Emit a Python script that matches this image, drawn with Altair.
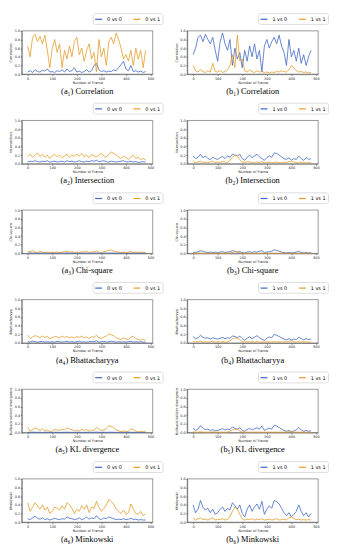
import altair as alt
import pandas as pd

# ---- data (values every 10 frames) ----
a1_00 = [0.05,0.08,0.04,0.10,0.06,0.05,0.09,0.07,0.12,0.05,0.06,0.04,0.08,0.06,0.10,0.05,0.12,0.06,0.08,0.15,0.05,0.07,0.04,0.06,0.10,0.05,0.08,0.20,0.25,0.10,0.06,0.08,0.05,0.07,0.06,0.10,0.08,0.15,0.22,0.30,0.12,0.08,0.20,0.06,0.08,0.05,0.07,0.04,0.06]
a1_01 = [0.65,0.40,0.85,0.92,0.75,0.88,0.70,0.90,0.55,0.15,0.60,0.80,0.50,0.70,0.15,0.55,0.35,0.65,0.40,0.75,0.85,0.45,0.60,0.30,0.55,0.70,0.35,0.50,0.05,0.80,0.40,0.60,0.20,0.75,0.85,0.70,0.95,0.80,0.60,0.35,0.45,0.30,0.55,0.20,0.60,0.35,0.55,0.15,0.55]
b1_10 = [0.45,0.60,0.85,0.90,0.75,0.92,0.80,0.70,0.85,0.55,0.30,0.75,0.95,0.70,0.55,0.80,0.20,0.60,0.35,0.50,0.15,0.55,0.30,0.65,0.40,0.70,0.35,0.55,0.05,0.65,0.80,0.60,0.75,0.85,0.70,0.90,0.65,0.50,0.20,0.80,0.40,0.55,0.30,0.60,0.25,0.45,0.20,0.40,0.55]
b1_11 = [0.20,0.08,0.05,0.10,0.06,0.04,0.08,0.05,0.25,0.06,0.05,0.08,0.04,0.06,0.10,0.20,0.45,0.15,0.90,0.30,0.35,0.08,0.05,0.10,0.06,0.04,0.08,0.05,0.06,0.04,0.05,0.03,0.05,0.04,0.06,0.05,0.08,0.06,0.05,0.10,0.20,0.15,0.08,0.05,0.06,0.04,0.05,0.03,0.04]

a2_00 = [0.04,0.06,0.05,0.07,0.05,0.04,0.06,0.05,0.07,0.04,0.05,0.06,0.04,0.05,0.06,0.04,0.07,0.05,0.06,0.04,0.05,0.07,0.05,0.04,0.06,0.05,0.07,0.06,0.08,0.05,0.06,0.07,0.05,0.04,0.06,0.05,0.04,0.05,0.06,0.07,0.04,0.05,0.06,0.04,0.05,0.03,0.04,0.05,0.04]
a2_01 = [0.18,0.22,0.15,0.20,0.25,0.17,0.22,0.15,0.20,0.12,0.18,0.22,0.16,0.20,0.14,0.18,0.22,0.15,0.20,0.17,0.22,0.18,0.24,0.16,0.20,0.14,0.22,0.18,0.16,0.20,0.24,0.18,0.15,0.22,0.27,0.24,0.20,0.16,0.12,0.18,0.14,0.10,0.16,0.20,0.12,0.15,0.10,0.12,0.09]
b2_10 = [0.18,0.12,0.15,0.22,0.14,0.18,0.12,0.10,0.15,0.12,0.10,0.14,0.17,0.12,0.18,0.15,0.22,0.20,0.18,0.22,0.12,0.08,0.15,0.20,0.14,0.18,0.22,0.16,0.12,0.08,0.14,0.18,0.15,0.25,0.24,0.20,0.16,0.12,0.10,0.14,0.08,0.12,0.10,0.18,0.12,0.08,0.14,0.10,0.12]
b2_11 = [0.05,0.03,0.04,0.06,0.03,0.04,0.02,0.05,0.06,0.03,0.04,0.03,0.05,0.04,0.03,0.08,0.15,0.20,0.18,0.10,0.04,0.03,0.05,0.04,0.03,0.02,0.04,0.03,0.05,0.02,0.03,0.04,0.02,0.03,0.04,0.03,0.02,0.04,0.03,0.05,0.06,0.04,0.03,0.02,0.04,0.03,0.02,0.03,0.02]

a3_00 = [0.006,0.008,0.005,0.010,0.007,0.005,0.009,0.006,0.008,0.005,0.006,0.007,0.005,0.008,0.006,0.005,0.009,0.006,0.007,0.005,0.006,0.008,0.005,0.006,0.007,0.005,0.008,0.006,0.010,0.006,0.007,0.008,0.005,0.006,0.007,0.006,0.005,0.006,0.007,0.008,0.005,0.006,0.007,0.005,0.006,0.004,0.005,0.006,0.005]
a3_01 = [0.05,0.04,0.06,0.03,0.02,0.04,0.03,0.02,0.03,0.02,0.03,0.02,0.03,0.02,0.03,0.04,0.05,0.03,0.04,0.02,0.03,0.02,0.04,0.03,0.05,0.02,0.03,0.04,0.06,0.03,0.02,0.04,0.05,0.07,0.08,0.05,0.04,0.03,0.02,0.03,0.02,0.03,0.04,0.02,0.03,0.02,0.03,0.02,0.02]
b3_10 = [0.03,0.02,0.04,0.06,0.05,0.03,0.02,0.03,0.02,0.03,0.02,0.03,0.04,0.02,0.03,0.04,0.06,0.05,0.03,0.04,0.02,0.01,0.03,0.04,0.02,0.04,0.03,0.05,0.06,0.02,0.03,0.04,0.05,0.08,0.07,0.05,0.03,0.02,0.01,0.02,0.01,0.02,0.03,0.05,0.02,0.01,0.02,0.01,0.02]
b3_11 = [0.005,0.003,0.004,0.005,0.003,0.004,0.003,0.004,0.005,0.003,0.004,0.003,0.004,0.003,0.004,0.008,0.020,0.040,0.035,0.015,0.004,0.003,0.004,0.003,0.004,0.003,0.004,0.003,0.004,0.003,0.004,0.003,0.004,0.003,0.004,0.003,0.004,0.003,0.004,0.005,0.006,0.004,0.003,0.004,0.003,0.004,0.003,0.004,0.003]

a4_00 = [0.03,0.02,0.04,0.03,0.02,0.03,0.04,0.02,0.03,0.02,0.03,0.02,0.04,0.03,0.02,0.03,0.04,0.02,0.03,0.02,0.03,0.04,0.02,0.03,0.02,0.03,0.04,0.03,0.05,0.02,0.03,0.04,0.02,0.03,0.04,0.03,0.02,0.03,0.02,0.03,0.02,0.03,0.04,0.02,0.03,0.02,0.03,0.02,0.02]
a4_01 = [0.18,0.10,0.14,0.17,0.15,0.12,0.16,0.13,0.15,0.10,0.12,0.15,0.14,0.12,0.16,0.13,0.15,0.12,0.14,0.11,0.15,0.13,0.16,0.12,0.14,0.10,0.15,0.13,0.18,0.12,0.10,0.14,0.16,0.21,0.19,0.17,0.12,0.10,0.08,0.12,0.09,0.08,0.13,0.16,0.10,0.08,0.07,0.09,0.06]
b4_10 = [0.15,0.10,0.12,0.18,0.13,0.11,0.12,0.09,0.12,0.10,0.09,0.11,0.13,0.10,0.12,0.11,0.16,0.15,0.12,0.16,0.10,0.06,0.11,0.14,0.10,0.13,0.17,0.12,0.09,0.06,0.11,0.14,0.12,0.20,0.18,0.15,0.12,0.09,0.07,0.10,0.07,0.09,0.08,0.13,0.10,0.07,0.10,0.08,0.09]
b4_11 = [0.04,0.02,0.03,0.04,0.02,0.03,0.02,0.03,0.04,0.02,0.03,0.02,0.03,0.02,0.03,0.05,0.09,0.12,0.11,0.07,0.03,0.02,0.03,0.02,0.03,0.02,0.03,0.02,0.03,0.02,0.03,0.02,0.02,0.03,0.02,0.03,0.02,0.03,0.02,0.04,0.05,0.03,0.02,0.03,0.02,0.03,0.02,0.02,0.02]

a5_00 = [0.008,0.005,0.010,0.007,0.006,0.008,0.005,0.007,0.009,0.005,0.006,0.008,0.006,0.005,0.007,0.006,0.009,0.007,0.006,0.005,0.007,0.008,0.006,0.005,0.007,0.006,0.008,0.007,0.012,0.006,0.005,0.008,0.006,0.007,0.009,0.006,0.005,0.006,0.007,0.006,0.005,0.007,0.008,0.005,0.006,0.005,0.006,0.005,0.005]
a5_01 = [0.12,0.03,0.07,0.11,0.08,0.05,0.09,0.04,0.06,0.02,0.04,0.07,0.06,0.05,0.08,0.06,0.11,0.08,0.07,0.04,0.05,0.04,0.08,0.05,0.07,0.03,0.06,0.05,0.12,0.08,0.04,0.06,0.09,0.16,0.14,0.11,0.06,0.04,0.02,0.04,0.02,0.03,0.09,0.06,0.03,0.02,0.03,0.02,0.02]
b5_10 = [0.10,0.05,0.08,0.16,0.10,0.07,0.08,0.05,0.07,0.04,0.05,0.07,0.09,0.06,0.08,0.07,0.13,0.10,0.08,0.11,0.05,0.03,0.07,0.10,0.06,0.09,0.11,0.08,0.15,0.05,0.08,0.10,0.08,0.17,0.15,0.12,0.08,0.05,0.03,0.05,0.02,0.04,0.06,0.12,0.06,0.03,0.05,0.03,0.04]
b5_11 = [0.02,0.01,0.01,0.02,0.01,0.01,0.01,0.01,0.02,0.01,0.01,0.01,0.01,0.01,0.01,0.03,0.06,0.08,0.07,0.04,0.01,0.01,0.01,0.01,0.01,0.01,0.01,0.01,0.01,0.01,0.01,0.01,0.01,0.01,0.01,0.01,0.01,0.01,0.01,0.02,0.02,0.01,0.01,0.01,0.01,0.01,0.01,0.01,0.01]

a6_00 = [0.08,0.06,0.10,0.14,0.09,0.07,0.10,0.06,0.08,0.05,0.07,0.09,0.07,0.06,0.08,0.07,0.12,0.09,0.08,0.06,0.07,0.10,0.06,0.08,0.12,0.07,0.10,0.08,0.15,0.08,0.06,0.10,0.08,0.12,0.10,0.08,0.06,0.07,0.06,0.08,0.06,0.07,0.09,0.06,0.07,0.05,0.06,0.05,0.05]
a6_01 = [0.45,0.25,0.35,0.45,0.38,0.30,0.40,0.28,0.35,0.20,0.25,0.35,0.32,0.28,0.38,0.30,0.45,0.40,0.32,0.20,0.30,0.25,0.38,0.30,0.40,0.22,0.35,0.32,0.48,0.35,0.25,0.32,0.40,0.52,0.48,0.42,0.30,0.25,0.20,0.28,0.18,0.22,0.42,0.30,0.20,0.18,0.25,0.15,0.20]
b6_10 = [0.40,0.22,0.30,0.50,0.35,0.28,0.32,0.22,0.30,0.18,0.22,0.30,0.35,0.25,0.32,0.28,0.45,0.38,0.30,0.40,0.20,0.12,0.30,0.40,0.25,0.35,0.42,0.30,0.48,0.18,0.30,0.38,0.32,0.50,0.48,0.42,0.32,0.22,0.15,0.22,0.12,0.18,0.25,0.40,0.25,0.15,0.22,0.12,0.20]
b6_11 = [0.10,0.05,0.08,0.10,0.06,0.07,0.05,0.08,0.10,0.05,0.07,0.06,0.08,0.05,0.07,0.12,0.25,0.35,0.30,0.18,0.08,0.05,0.07,0.06,0.08,0.05,0.07,0.06,0.08,0.05,0.06,0.07,0.05,0.06,0.08,0.05,0.06,0.07,0.05,0.10,0.12,0.08,0.06,0.07,0.05,0.06,0.05,0.06,0.05]

metrics = ["Correlation", "Intersection", "Chi-square", "Bhattacharyya", "KL divergence", "Minkowski"]
y_titles = ["Correlation", "Intersection", "Chi-square", "Bhattacharyya", "Kullback-Leibler divergence", "Minkowski"]
subs = ["\u2081", "\u2082", "\u2083", "\u2084", "\u2085", "\u2086"]
left_series = [(a1_00, a1_01), (a2_00, a2_01), (a3_00, a3_01), (a4_00, a4_01), (a5_00, a5_01), (a6_00, a6_01)]
right_series = [(b1_10, b1_11), (b2_10, b2_11), (b3_10, b3_11), (b4_10, b4_11), (b5_10, b5_11), (b6_10, b6_11)]
left_names = ["0 vs 0", "0 vs 1"]
right_names = ["1 vs 0", "1 vs 1"]

BLUE = "#4066c4"
ORANGE = "#e39c2a"
W, H = 133, 44


def panel(pair, names, letter, i):
    rows = []
    for name, vals in zip(names, pair):
        for k, v in enumerate(vals):
            rows.append({"frame": k * 10, "value": v, "series": name})
    df = pd.DataFrame(rows)
    return alt.Chart(df).mark_line(strokeWidth=0.8).encode(
        x=alt.X("frame:Q", scale=alt.Scale(domain=[-24, 509], nice=False),
                axis=alt.Axis(values=[0, 100, 200, 300, 400, 500], format="d",
                              title="Number of Frame", minExtent=5.5, maxExtent=5.5)),
        y=alt.Y("value:Q", scale=alt.Scale(domain=[0, 1], nice=False),
                axis=alt.Axis(values=[0, 0.2, 0.4, 0.6, 0.8, 1.0], format=".1f",
                              title=y_titles[i], minExtent=8.5, maxExtent=8.5)),
        color=alt.Color("series:N",
                        scale=alt.Scale(domain=names, range=[BLUE, ORANGE]),
                        legend=alt.Legend(title=None, orient="none", legendX=72, legendY=-18,
                                          direction="horizontal", symbolType="stroke",
                                          symbolSize=49, symbolStrokeWidth=1.2,
                                          labelFontSize=5, labelFont="DejaVu Sans",
                                          columnPadding=8, padding=1.5,
                                          strokeColor="#dddddd", fillColor="white",
                                          cornerRadius=2)),
        order=alt.Order("frame:Q"),
    ).properties(
        width=W, height=H,
        title=alt.TitleParams(f"({letter}{subs[i]}) {metrics[i]}", orient="bottom",
                              font="Liberation Serif", fontSize=8.5, fontWeight="normal",
                              color="black", offset=3.5),
    )


left = [panel(left_series[i], left_names, "a", i) for i in range(6)]
right = [panel(right_series[i], right_names, "b", i) for i in range(6)]

rows = [alt.hconcat(left[i], right[i], spacing=10)
        .resolve_scale(color="independent").resolve_legend(color="independent")
        for i in range(6)]

chart = alt.vconcat(*rows, spacing=6).resolve_scale(color="independent").resolve_legend(
    color="independent"
).properties(padding=0).configure_view(
    stroke="#333333", strokeWidth=0.5
).configure_axis(
    labelFont="DejaVu Sans", titleFont="DejaVu Sans", labelFontSize=3.5, titleFontSize=3.5,
    titleFontWeight="normal", tickSize=1.5, labelPadding=0.5, titlePadding=0.5,
    domainColor="#333333", tickColor="#333333", domainWidth=0.5, tickWidth=0.5,
    labelColor="#222222", titleColor="#222222", grid=False
)

chart.save("out.html", embed_options={"renderer": "svg", "actions": False})
